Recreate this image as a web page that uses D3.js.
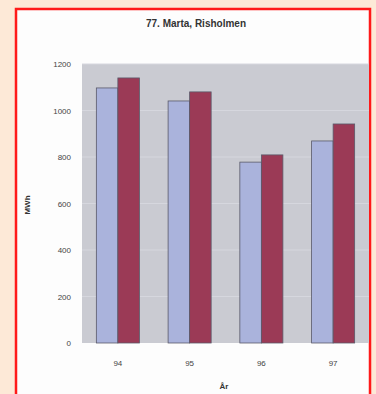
<!DOCTYPE html>
<html>
<head>
<meta charset="utf-8">
<script src="https://cdn.jsdelivr.net/npm/d3@7"></script>
<style>
  html, body { margin: 0; padding: 0; background: #fde9d7; }
  svg { display: block; }
  text { font-family: "Liberation Sans", Arial, sans-serif; }
</style>
</head>
<body>
<svg id="chart" width="376" height="394"></svg>
<script>
// Annual production, two series per year
const years = ["94", "95", "96", "97"];
const seriesA = [1097, 1041, 778, 869];
const seriesB = [1140, 1080, 809, 942];
const yTicks = [0, 200, 400, 600, 800, 1000, 1200];
const title = "77. Marta, Risholmen";
const yLabel = "MWh";
const xLabel = "År";

const svg = d3.select("#chart");

// framed white panel
svg.append("rect")
  .attr("x", 16).attr("y", 9).attr("width", 354).attr("height", 400)
  .attr("fill", "#fdfdfd").attr("stroke", "#ff1a1a").attr("stroke-width", 2.5);

const plot = { left: 82, right: 369, top: 64, bottom: 343 };

const x = d3.scaleBand().domain(years).range([plot.left, plot.right]).paddingInner(0.4).paddingOuter(0.2);
const y = d3.scaleLinear().domain([0, 1200]).range([plot.bottom, plot.top]);

// plot background
svg.append("rect")
  .attr("x", plot.left).attr("y", plot.top)
  .attr("width", plot.right - plot.left).attr("height", plot.bottom - plot.top)
  .attr("fill", "#cacbd2");

// light gridlines
svg.append("g")
  .selectAll("line").data(yTicks.slice(1))
  .join("line")
  .attr("x1", plot.left).attr("x2", plot.right)
  .attr("y1", d => y(d)).attr("y2", d => y(d))
  .attr("stroke", "#d6d7de").attr("stroke-width", 1);

// bars
const inner = d3.scaleBand().domain([0, 1]).range([0, x.bandwidth()]);
const rows = years.map((yr, i) => ({ yr, vals: [seriesA[i], seriesB[i]] }));
const colors = ["#aab3dc", "#9b3a56"];

svg.append("g").selectAll("g").data(rows).join("g")
  .attr("transform", d => `translate(${x(d.yr)},0)`)
  .selectAll("rect").data(d => d.vals.map((v, k) => ({ v, k })))
  .join("rect")
  .attr("x", d => inner(d.k))
  .attr("width", inner.bandwidth())
  .attr("y", d => y(d.v))
  .attr("height", d => y(0) - y(d.v))
  .attr("fill", d => colors[d.k])
  .attr("stroke", "#5a5a6a").attr("stroke-width", 0.8);

// y axis
const yAxis = svg.append("g")
  .attr("transform", `translate(${plot.left},0)`)
  .call(d3.axisLeft(y).tickValues(yTicks).tickFormat(d3.format("d")).tickSize(0).tickPadding(11));
yAxis.select(".domain").remove();
yAxis.selectAll("text").attr("font-size", 8).attr("fill", "#444");

// x axis
const xAxis = svg.append("g")
  .attr("transform", `translate(0,${plot.bottom})`)
  .call(d3.axisBottom(x).tickSize(0).tickPadding(17));
xAxis.select(".domain").remove();
xAxis.selectAll("text").attr("font-size", 8).attr("fill", "#444");

// title and axis labels
svg.append("text")
  .attr("x", 196).attr("y", 27)
  .attr("text-anchor", "middle")
  .attr("font-size", 10).attr("font-weight", "bold").attr("fill", "#333")
  .text(title);

svg.append("text")
  .attr("transform", "translate(30,205) rotate(-90)")
  .attr("text-anchor", "middle")
  .attr("font-size", 8).attr("font-weight", "bold").attr("fill", "#333")
  .text(yLabel);

svg.append("text")
  .attr("x", 224).attr("y", 389)
  .attr("text-anchor", "middle")
  .attr("font-size", 8).attr("font-weight", "bold").attr("fill", "#333")
  .text(xLabel);
</script>
</body>
</html>
